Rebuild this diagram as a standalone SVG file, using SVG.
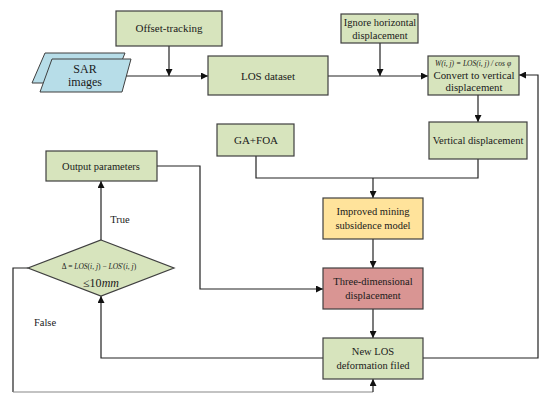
<svg xmlns="http://www.w3.org/2000/svg" width="550" height="400" viewBox="0 0 550 400">
<defs>
<marker id="ah" viewBox="0 0 10 10" refX="10" refY="5" markerWidth="7" markerHeight="7" markerUnits="userSpaceOnUse" orient="auto">
<path d="M0,0 L10,5 L0,10 z" fill="#111"/>
</marker>
</defs>
<style>
.g{fill:#d7e4bd;stroke:#3f3f3f;stroke-width:1.2}
.y{fill:#ffe39b;stroke:#3f3f3f;stroke-width:1.2}
.r{fill:#d99593;stroke:#3f3f3f;stroke-width:1.2}
.b{fill:#b7dde8;stroke:#3f3f3f;stroke-width:1}
.t{font-family:'Liberation Serif','Times New Roman','DejaVu Serif',serif;font-size:11px;fill:#1a1a1a;text-anchor:middle}
.i{font-style:italic}
.c{fill:none;stroke:#222;stroke-width:1.2}
.a{marker-end:url(#ah)}
</style>
<rect width="550" height="400" fill="#fff"/>
<g id="connectors">
<path class="c a" d="M169,46 V76"/>
<path class="c a" d="M123,76 H208"/>
<path class="c a" d="M380,43 V76"/>
<path class="c a" d="M328,76 H428"/>
<path class="c a" d="M478,95 V122"/>
<path class="c" d="M256,156 V178 H478 V159"/>
<path class="c a" d="M373,178 V198"/>
<path class="c a" d="M373,239 V268"/>
<path class="c a" d="M373,309 V338"/>
<path class="c a" d="M423,358 H538 V75 H519"/>
<path class="c a" d="M323,358 H101 V296"/>
<path class="c a" d="M101,240 V181"/>
<path class="c a" d="M157,166 H200 V289 H323"/>
<path class="c" d="M28,268 H13 V392"/>
<path class="c" d="M13,392 H373" style="stroke:#888"/>
<path class="c a" d="M373,392 V379"/>
</g>
<g id="offset-tracking"><rect class="g" x="116" y="11" width="106" height="35"/><text class="t" x="169" y="32">Offset-tracking</text></g>
<g id="sar-images">
<polygon class="b" points="45,53 125,53 113,83 32,83"/>
<polygon class="b" points="52,59 131,59 122,92 40,92"/>
<text class="t" x="85" y="73" style="font-size:12px">SAR</text><text class="t" x="85" y="86" style="font-size:12px">images</text>
</g>
<g id="los-dataset"><rect class="g" x="208" y="56" width="120" height="39"/><text class="t" x="268" y="80">LOS dataset</text></g>
<g id="ignore-horizontal"><rect class="g" x="341" y="14" width="77" height="29"/><text class="t" x="380" y="26" style="font-size:10.5px">Ignore horizontal</text><text class="t" x="380" y="39" style="font-size:10.5px">displacement</text></g>
<g id="convert-vertical"><rect class="g" x="428" y="56" width="91" height="39"/>
<text class="t i" x="473" y="66" style="font-size:7.5px">W(i, j) = LOS(i, j) / cos φ</text>
<text class="t" x="474" y="79" style="font-size:10.8px">Convert to vertical</text><text class="t" x="474" y="91" style="font-size:10.8px">displacement</text></g>
<g id="vertical-displacement"><rect class="g" x="429" y="122" width="98" height="37"/><text class="t" x="478" y="144" style="font-size:10.5px">Vertical displacement</text></g>
<g id="ga-foa"><rect class="g" x="217" y="124" width="77" height="32"/><text class="t" x="256" y="144">GA+FOA</text></g>
<g id="output-parameters"><rect class="g" x="46" y="151" width="111" height="30"/><text class="t" x="101" y="170" style="font-size:10.5px">Output parameters</text></g>
<g id="improved-model"><rect class="y" x="323" y="198" width="100" height="41"/><text class="t" x="373" y="215" style="font-size:10.5px">Improved mining</text><text class="t" x="373" y="229" style="font-size:10.5px">subsidence model</text></g>
<g id="three-dimensional"><rect class="r" x="323" y="268" width="100" height="41"/><text class="t" x="373" y="285" style="font-size:10.5px">Three-dimensional</text><text class="t" x="373" y="299" style="font-size:10.5px">displacement</text></g>
<g id="new-los"><rect class="g" x="323" y="338" width="100" height="41"/><text class="t" x="373" y="355" style="font-size:10.5px">New LOS</text><text class="t" x="373" y="369" style="font-size:10.5px">deformation filed</text></g>
<g id="decision">
<polygon class="g" points="101,240 174,268 101,296 28,268"/>
<text class="t" x="99" y="269" style="font-size:7.5px">Δ = <tspan class="i">LOS</tspan>(<tspan class="i">i</tspan>, <tspan class="i">j</tspan>) − <tspan class="i">LOS</tspan>'(<tspan class="i">i</tspan>, <tspan class="i">j</tspan>)</text>
<text class="t" x="101" y="287" style="font-size:12px">≤10<tspan class="i">mm</tspan></text>
</g>
<text class="t" x="120" y="223" style="font-size:10.5px">True</text>
<text class="t" x="45" y="326" style="font-size:10.5px">False</text>
</svg>
